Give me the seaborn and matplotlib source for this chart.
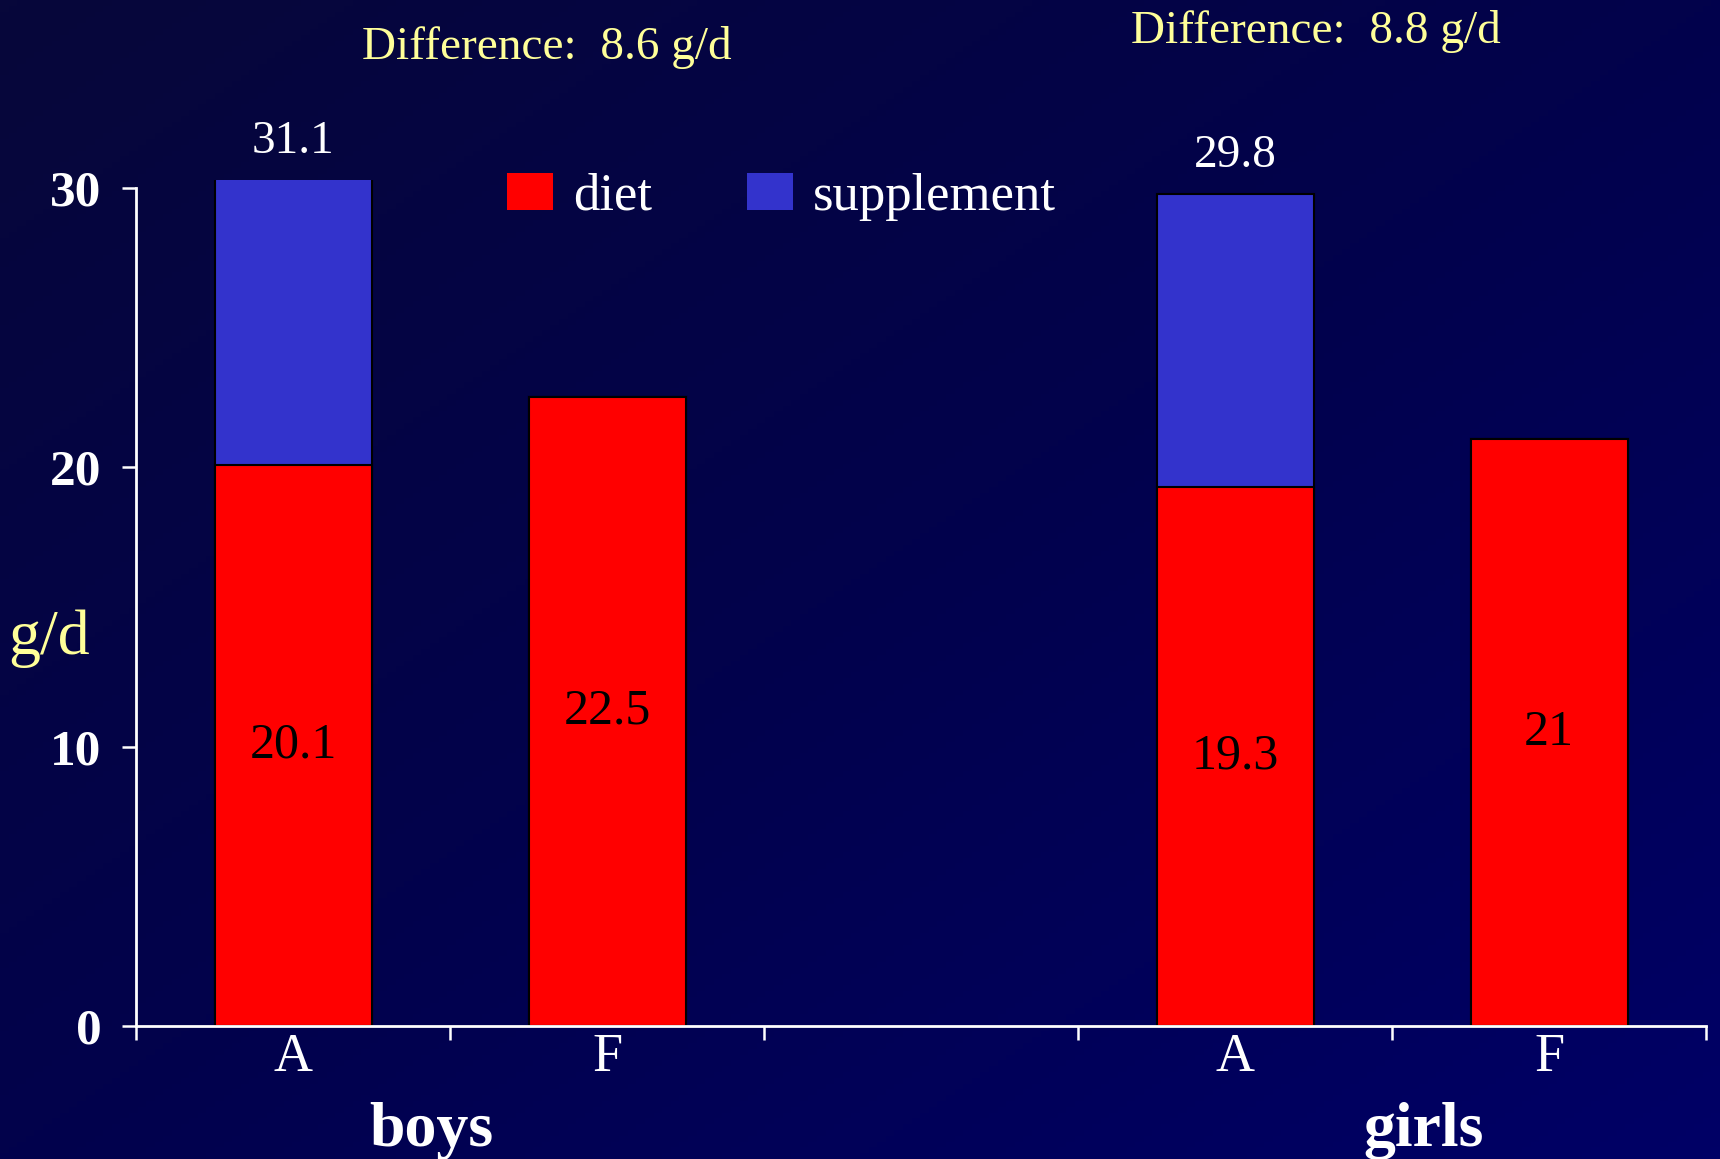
import numpy as np
import pandas as pd
import seaborn as sns
import matplotlib.pyplot as plt
from matplotlib.patches import Patch
from matplotlib.colors import LinearSegmentedColormap

# =============================================================================
# Data
# =============================================================================

groups = ["boys", "boys", "girls", "girls"]
kinds = ["A", "F", "A", "F"]
diet = [20.1, 22.5, 19.3, 21.0]
total = [31.1, 22.5, 29.8, 21.0]
differences = [8.6, 8.8]

slot_order = ["boys A", "boys F", "gap", "girls A", "girls F"]
slot_labels = ["A", "F", "", "A", "F"]
y_ticks = [0, 10, 20, 30]

df = pd.DataFrame({"group": groups, "kind": kinds, "diet": diet, "total": total})
df["slot"] = df["group"] + " " + df["kind"]

# =============================================================================
# Style
# =============================================================================

sns.set_style("ticks")
plt.rcParams["font.family"] = ["Liberation Serif", "DejaVu Serif"]

red = "#FF0000"
blue = "#3333CC"
yellow = "#FFFF99"
y_top = 30.3

W, H = 1720, 1159
fig = plt.figure(figsize=(W / 100, H / 100), dpi=100)

# gradient background
bg = fig.add_axes([0, 0, 1, 1])
gx, gy = np.meshgrid(np.linspace(0, 1, 200), np.linspace(0, 1, 200))
bg_cmap = LinearSegmentedColormap.from_list("bg", ["#07073a", "#02024c", "#000066"])
bg.imshow((gx + gy) / 2, cmap=bg_cmap, aspect="auto", extent=[0, 1, 0, 1], origin="upper")
bg.set_axis_off()

ax = fig.add_axes([136 / W, 1 - 1026 / H, 1570 / W, (1026 - 179.6) / H])
ax.set_facecolor("none")

bar_kw = dict(order=slot_order, width=0.5, edgecolor="black", linewidth=1.5,
              saturation=1, errorbar=None, ax=ax)
sns.barplot(data=df, x="slot", y="total", color=blue, **bar_kw)
sns.barplot(data=df, x="slot", y="diet", color=red, **bar_kw)

ax.set_xlim(-0.5, 4.5)
ax.set_ylim(0, y_top)

# =============================================================================
# Axes formatting
# =============================================================================

for side in ["top", "right"]:
    ax.spines[side].set_visible(False)
for side in ["left", "bottom"]:
    ax.spines[side].set_color("white")
    ax.spines[side].set_linewidth(2)
ax.spines["left"].set_bounds(0, 30)

ax.set_xticks(np.arange(-0.5, 5, 1))
ax.set_xticklabels([])
ax.set_xticks(range(len(slot_order)), minor=True)
ax.set_xticklabels(slot_labels, minor=True, fontsize=39, color="white")
ax.tick_params(axis="x", which="major", length=10, width=1.8, color="white")
ax.tick_params(axis="x", which="minor", length=0, pad=5)

ax.set_yticks(y_ticks)
ax.set_yticklabels([str(t) for t in y_ticks], fontsize=37, fontweight="bold", color="white")
ax.tick_params(axis="y", length=10, width=1.8, color="white", pad=15)

ax.set_xlabel("")
ax.set_ylabel("g/d", rotation=0, fontsize=46, color=yellow, ha="center", va="center")
ax.yaxis.set_label_coords(-0.0554, 0.458)

# =============================================================================
# Labels
# =============================================================================

for i, row in df.iterrows():
    x = slot_order.index(row["slot"])
    ax.text(x, row["diet"] / 2, f"{row['diet']:g}", ha="center", va="center",
            fontsize=36, color="black")
    if row["total"] > row["diet"]:
        top = min(row["total"], y_top)
        ax.annotate(f"{row['total']:g}", (x, top), xytext=(0, 27),
                    textcoords="offset points", ha="center", va="center",
                    fontsize=34, color="white", annotation_clip=False)

xa = ax.get_xaxis_transform()
ax.text(0.44, -0.142, "boys", transform=xa, ha="center", va="baseline",
        fontsize=46, fontweight="bold", color="white")
ax.text(3.6, -0.142, "girls", transform=xa, ha="center", va="baseline",
        fontsize=46, fontweight="bold", color="white")

fig.text(547 / W, 1 - 59 / H, f"Difference:  {differences[0]} g/d", ha="center",
         va="baseline", fontsize=34, color=yellow)
fig.text(1316 / W, 1 - 43 / H, f"Difference:  {differences[1]} g/d", ha="center",
         va="baseline", fontsize=34, color=yellow)

handles = [Patch(facecolor=red, edgecolor="none"), Patch(facecolor=blue, edgecolor="none")]
fig.legend(handles, ["diet", "supplement"], ncol=2, frameon=False,
           loc="center left", bbox_to_anchor=(507 / W, 1 - 197 / H),
           borderpad=0, borderaxespad=0, fontsize=38, labelcolor="white",
           handlelength=0.87, handleheight=0.7, handletextpad=0.38,
           columnspacing=1.8)

plt.savefig("out.png", dpi=100)
